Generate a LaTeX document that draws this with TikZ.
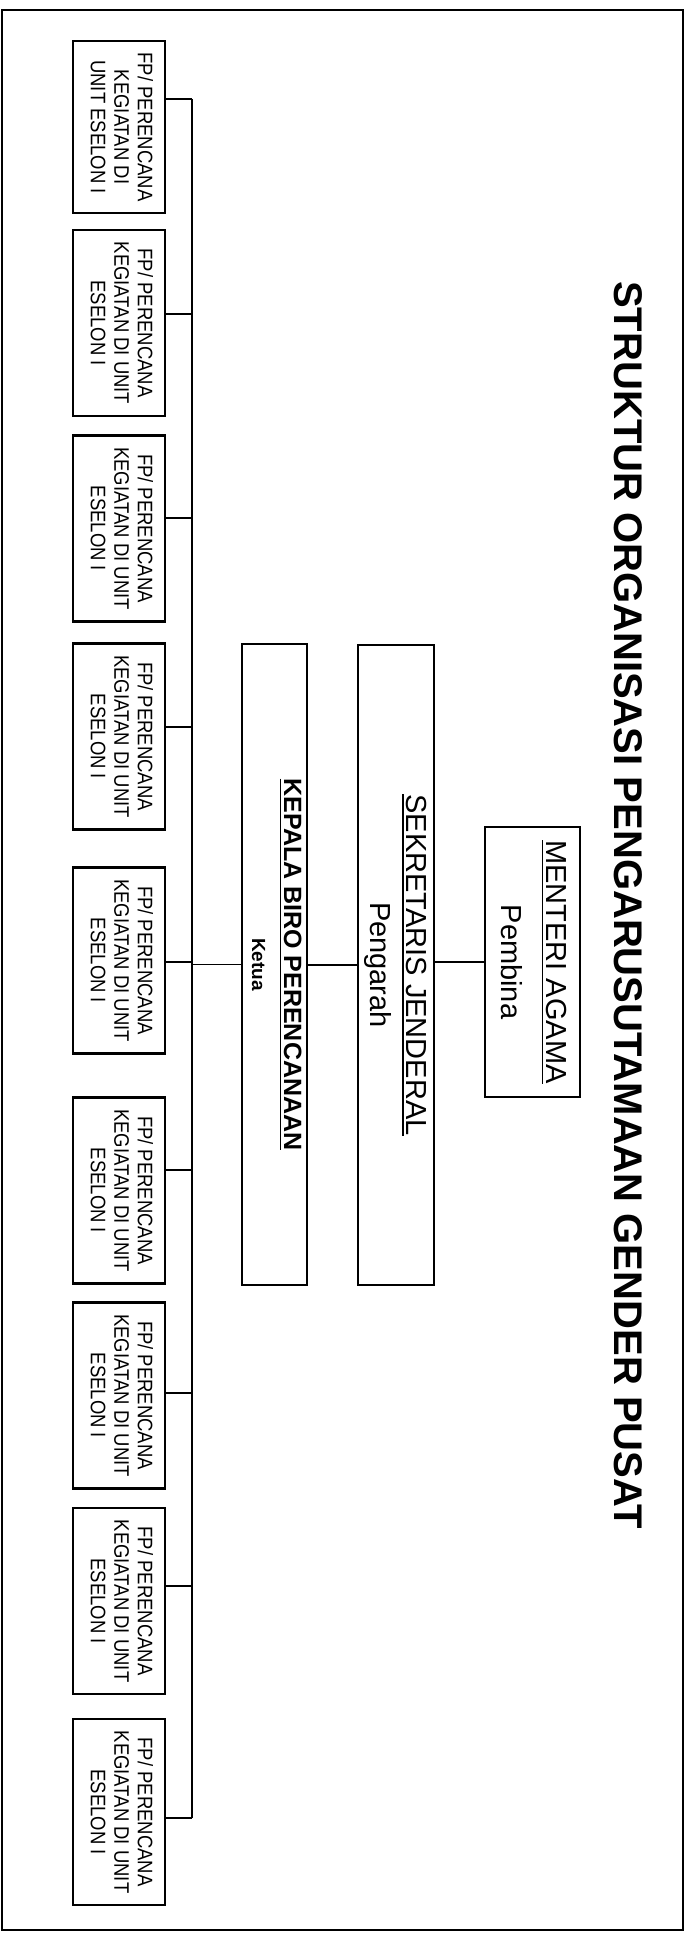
\documentclass[tikz,border=0pt]{standalone}
\usepackage{fontspec}
\setmainfont{Liberation Sans}
\newfontfamily\narrowsf[FakeStretch=0.88]{Liberation Sans}
\usepackage{graphicx}
\newsavebox\ulsave
\newcommand{\ulin}[1]{\sbox\ulsave{#1}\rlap{\rule[-4.5pt]{\wd\ulsave}{1.8pt}}\usebox\ulsave}
\newcommand{\vlines}[1]{\rotatebox{-90}{\begin{tabular}{@{}c@{}}#1\end{tabular}}}
\tikzset{
	orgbox/.style = {draw, line width=2.5pt, inner sep=0pt},
	fp/.style = {orgbox, minimum width=92pt, minimum height=186pt, font=\narrowsf\fontsize{21}{23.5}\selectfont},
	link/.style = {line width=1.2pt}
}

\begin{document}
\begin{tikzpicture}[x=1pt,y=-1pt]
	\useasboundingbox (0,0) rectangle (691,1934);
	\draw[line width=2pt] (2,10) rectangle (683,1930);
	\node[rotate=-90, inner sep=0pt, font=\bfseries\fontsize{40}{48}\selectfont] (title) at (628,905) {STRUKTUR ORGANISASI PENGARUSUTAMAAN GENDER PUSAT};
	\node[orgbox, minimum width=95pt, minimum height=270pt, font=\fontsize{29}{45}\selectfont] (menteri) at (532.5,962) {\vlines{\ulin{MENTERI AGAMA}\\Pembina}};
	\node[orgbox, minimum width=76pt, minimum height=640pt, font=\fontsize{29}{36}\selectfont] (sekjen) at (396,965) {\vlines{\ulin{SEKRETARIS JENDERAL}\\Pengarah}};
	\node[orgbox, minimum width=65pt, minimum height=641pt, font=\bfseries\fontsize{25}{32}\selectfont] (kepala) at (274.5,964.5) {\vlines{\ulin{KEPALA BIRO PERENCANAAN}\\{\fontsize{19}{24}\selectfont Ketua}}};
	\node[fp, minimum height=172pt] (fp1) at (119,127) {\vlines{FP/ PERENCANA\\KEGIATAN DI\\UNIT ESELON I}};
	\node[fp] (fp2) at (119,323) {\vlines{FP/ PERENCANA\\KEGIATAN DI UNIT\\ESELON I}};
	\node[fp] (fp3) at (119,528.5) {\vlines{FP/ PERENCANA\\KEGIATAN DI UNIT\\ESELON I}};
	\node[fp] (fp4) at (119,736.5) {\vlines{FP/ PERENCANA\\KEGIATAN DI UNIT\\ESELON I}};
	\node[fp] (fp5) at (119,960.5) {\vlines{FP/ PERENCANA\\KEGIATAN DI UNIT\\ESELON I}};
	\node[fp] (fp6) at (119,1190.5) {\vlines{FP/ PERENCANA\\KEGIATAN DI UNIT\\ESELON I}};
	\node[fp] (fp7) at (119,1395.5) {\vlines{FP/ PERENCANA\\KEGIATAN DI UNIT\\ESELON I}};
	\node[fp] (fp8) at (119,1601) {\vlines{FP/ PERENCANA\\KEGIATAN DI UNIT\\ESELON I}};
	\node[fp] (fp9) at (119,1812) {\vlines{FP/ PERENCANA\\KEGIATAN DI UNIT\\ESELON I}};
	\coordinate (j1) at (192,99);
	\coordinate (j2) at (192,314);
	\coordinate (j3) at (192,518);
	\coordinate (j4) at (192,727);
	\coordinate (j5) at (192,962);
	\coordinate (j6) at (192,1170);
	\coordinate (j7) at (192,1393);
	\coordinate (j8) at (192,1586);
	\coordinate (j9) at (192,1818);
	\draw[link] (menteri.west) -- (menteri.west -| sekjen.east);
	\draw[link] (sekjen.west) -- (sekjen.west -| kepala.east);
	\draw[link] (kepala.west) -- (kepala.west -| j5);
	\draw[link] (j1) -- (j9);
	\draw[link] (j1) -- (j1 -| fp1.east);
	\draw[link] (j2) -- (j2 -| fp2.east);
	\draw[link] (j3) -- (j3 -| fp3.east);
	\draw[link] (j4) -- (j4 -| fp4.east);
	\draw[link] (j5) -- (j5 -| fp5.east);
	\draw[link] (j6) -- (j6 -| fp6.east);
	\draw[link] (j7) -- (j7 -| fp7.east);
	\draw[link] (j8) -- (j8 -| fp8.east);
	\draw[link] (j9) -- (j9 -| fp9.east);
\end{tikzpicture}
\end{document}
